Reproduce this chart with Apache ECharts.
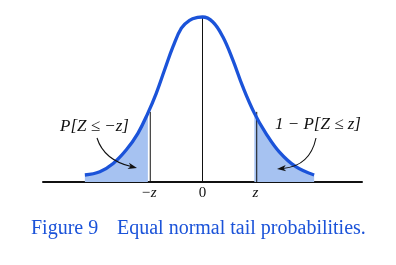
<!DOCTYPE html>
<html>
<head>
<meta charset="utf-8">
<script src="https://cdn.jsdelivr.net/npm/echarts@6/dist/echarts.min.js"></script>
<style>html,body{margin:0;padding:0;background:#fff}#c{width:396px;height:265px}</style>
</head>
<body>
<div id="c"></div>
<script>
// Curve values (x in standard units, y as density)
const curveX = [-2.95, -2.575, -2.24, -1.91, -1.62, -1.37, -1.16, -0.95, -0.74, -0.53, -0.325, -0.12, 0, 0.26, 0.51, 0.76, 1.01, 1.30, 1.59, 1.925, 2.34, 2.80];
const curveY = [0.017, 0.025, 0.045, 0.078, 0.118, 0.167, 0.215, 0.272, 0.328, 0.373, 0.392, 0.399, 0.400, 0.388, 0.352, 0.296, 0.231, 0.167, 0.118, 0.073, 0.037, 0.017];
const leftTailEnd = -1.37;
const rightTailStart = 1.30;
const guideX = [-1.31, 0, 1.36];
const guideTop = [0.170, 0.400, 0.170];
const tickValues = [-1.35, 0, 1.33];
const tickLabels = ['−z', '0', 'z'];
const caption = ['Figure 9', 'Equal normal tail probabilities.'];
const noteLeft = 'P[Z ≤ −z]';
const noteRight = '1 − P[Z ≤ z]';

const BLUE = '#1b53d9';
const FILL = '#a6c2f1';
const SERIF = '"Liberation Serif", "DejaVu Serif", serif';

const curve = curveX.map((x, i) => [x, curveY[i]]);
const leftTail = curve.filter(p => p[0] <= leftTailEnd + 1e-9);
const rightTail = curve.filter(p => p[0] >= rightTailStart - 1e-9);

const series = [
  { type: 'line', data: leftTail, smooth: 0.4, symbol: 'none', lineStyle: { width: 0 }, areaStyle: { color: FILL, opacity: 1 }, z: 1 },
  { type: 'line', data: rightTail, smooth: 0.4, symbol: 'none', lineStyle: { width: 0 }, areaStyle: { color: FILL, opacity: 1 }, z: 1 }
];
guideX.forEach((gx, i) => {
  series.push({ type: 'line', data: [[gx, 0], [gx, guideTop[i]]], symbol: 'none', lineStyle: { color: '#111', width: 1 }, z: 2 });
});
series.push({ type: 'line', data: curve, smooth: 0.4, symbol: 'none', clip: false, lineStyle: { color: BLUE, width: 3.3 }, z: 3 });

function arrow(p0, c, p2) {
  const ang = Math.atan2(p2[1] - c[1], p2[0] - c[0]);
  const L = 9, W = 3.2;
  const bx = p2[0] - L * Math.cos(ang), by = p2[1] - L * Math.sin(ang);
  const nx = -Math.sin(ang), ny = Math.cos(ang);
  return [
    { type: 'bezierCurve', shape: { x1: p0[0], y1: p0[1], cpx1: c[0], cpy1: c[1], x2: bx + 3 * Math.cos(ang), y2: by + 3 * Math.sin(ang) }, style: { stroke: '#111', lineWidth: 1.1, fill: null }, z: 10 },
    { type: 'polygon', shape: { points: [p2, [bx + W * nx, by + W * ny], [bx + 2.5 * Math.cos(ang), by + 2.5 * Math.sin(ang)], [bx - W * nx, by - W * ny]] }, style: { fill: '#111' }, z: 10 }
  ];
}

const graphic = [
  { type: 'text', left: 31, top: 219, style: { text: caption[0], font: '20px ' + SERIF, fill: BLUE }, z: 10 },
  { type: 'text', left: 117, top: 219, style: { text: caption[1], font: '20px ' + SERIF, fill: BLUE }, z: 10 },
  { type: 'text', left: 60, top: 118, style: { text: noteLeft, font: 'italic 17px ' + SERIF, fill: '#111' }, z: 10 },
  { type: 'text', left: 275, top: 116, style: { text: noteRight, font: 'italic 17px ' + SERIF, fill: '#111' }, z: 10 }
].concat(arrow([97, 138], [104, 160], [137, 168])).concat(arrow([316, 138], [310, 166], [277, 169]));

const chart = echarts.init(document.getElementById('c'), null, { renderer: 'canvas' });
chart.setOption({
  animation: false,
  backgroundColor: '#fff',
  grid: { left: 43, right: 34, top: 17, bottom: 83 },
  xAxis: {
    type: 'value', min: -4, max: 4,
    splitLine: { show: false },
    axisTick: { show: false },
    axisLine: { lineStyle: { color: '#111', width: 2 } },
    axisLabel: {
      customValues: tickValues,
      margin: 4,
      formatter: v => {
        const i = tickValues.findIndex(t => Math.abs(t - v) < 1e-6);
        const s = i >= 0 ? tickLabels[i] : '';
        return s === '0' ? '{n|0}' : '{i|' + s + '}';
      },
      rich: {
        n: { fontFamily: SERIF, fontSize: 15, color: '#111' },
        i: { fontFamily: SERIF, fontStyle: 'italic', fontSize: 15, color: '#111' }
      }
    }
  },
  yAxis: { type: 'value', min: 0, max: 0.4, show: false, splitLine: { show: false } },
  series: series,
  graphic: graphic
});
</script>
</body>
</html>
